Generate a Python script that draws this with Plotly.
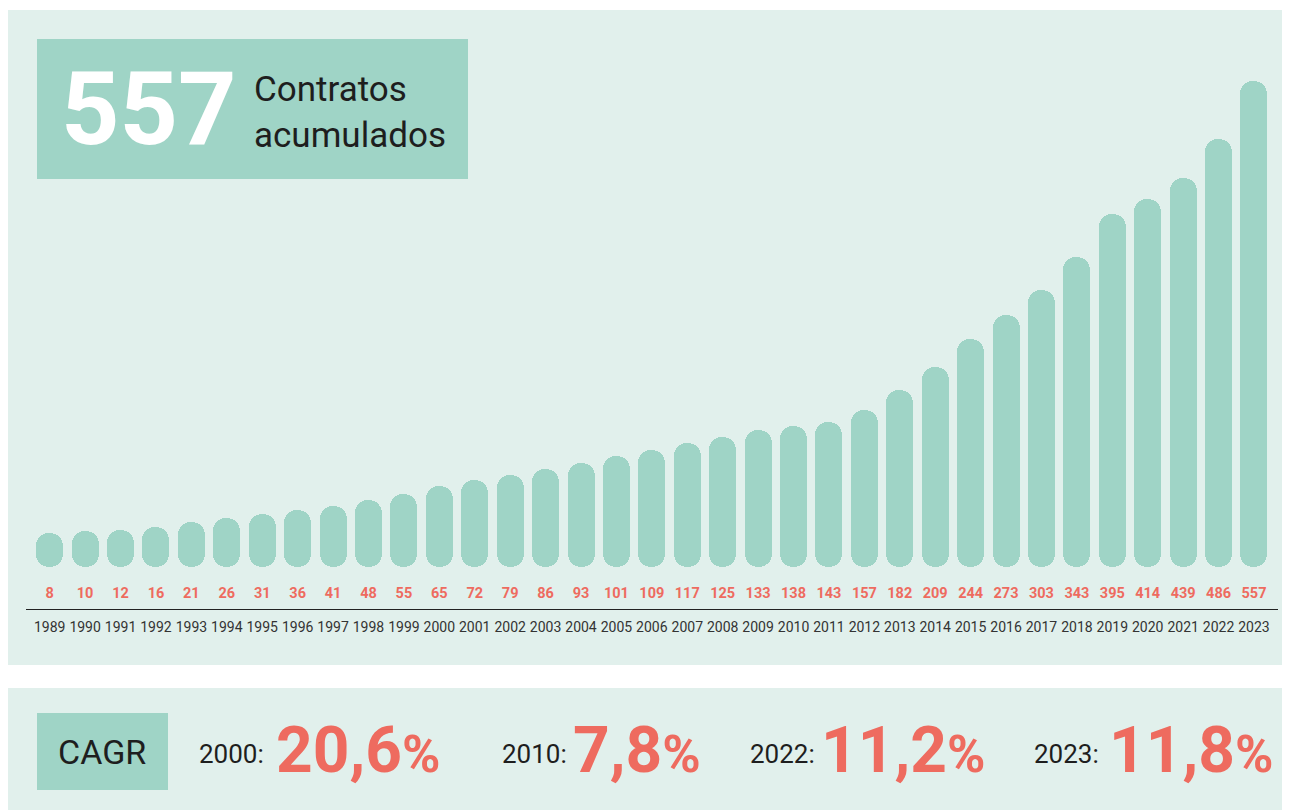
import plotly.graph_objects as go

years = [str(y) for y in range(1989, 2024)]
values = [8, 10, 12, 16, 21, 26, 31, 36, 41, 48, 55, 65, 72, 79, 86, 93, 101, 109,
          117, 125, 133, 138, 143, 157, 182, 209, 244, 273, 303, 343, 395, 414, 439, 486, 557]
total_label = "557"
title_label = "Contratos<br>acumulados"
cagr_years = ["2000:", "2010:", "2022:", "2023:"]
cagr_values = ["20,6", "7,8", "11,2", "11,8"]

# page is offset by the 8px body margin
OFF = 8
W, H = 1282, 802
BG = "#E1F0EC"
TEAL = "#9FD4C6"
CORAL = "#EE6B5F"
DARK = "#1E1E1E"
FONT = "Roboto, DejaVu Sans Condensed, sans-serif"

CAP = 16.4  # rounded cap size in value units
xs = list(range(len(years)))

fig = go.Figure()
# pill bars: rounded top
fig.add_trace(go.Bar(
    x=xs, y=[v + 2 * CAP for v in values], base=[-CAP] * len(values),
    width=0.762, marker=dict(color=TEAL, cornerradius="50%", line=dict(width=0)),
    hoverinfo="skip", showlegend=False))
# rounded bottom
fig.add_trace(go.Bar(
    x=xs, y=[-(v + 2 * CAP) for v in values], base=[v + CAP for v in values],
    width=0.762, marker=dict(color=TEAL, cornerradius="50%", line=dict(width=0)),
    hoverinfo="skip", showlegend=False))
# value labels
fig.add_trace(go.Scatter(
    x=xs, y=[-50] * len(values), mode="text", text=[str(v) for v in values],
    textfont=dict(family=FONT, size=14.5, color=CORAL, weight="bold"),
    hoverinfo="skip", showlegend=False, cliponaxis=False))


def px_x(p):
    return (p - OFF) / W


def px_y(p):
    return 1 - (p - OFF) / H


shapes = [
    dict(type="rect", xref="paper", yref="paper", x0=px_x(8), x1=px_x(1292),
         y0=px_y(665), y1=px_y(10), fillcolor=BG, line=dict(width=0), layer="below"),
    dict(type="rect", xref="paper", yref="paper", x0=px_x(8), x1=px_x(1292),
         y0=px_y(812), y1=px_y(688), fillcolor=BG, line=dict(width=0), layer="below"),
    dict(type="rect", xref="paper", yref="paper", x0=px_x(37), x1=px_x(468),
         y0=px_y(179), y1=px_y(39), fillcolor=TEAL, line=dict(width=0), layer="below"),
    dict(type="rect", xref="paper", yref="paper", x0=px_x(37), x1=px_x(168),
         y0=px_y(790), y1=px_y(713), fillcolor=TEAL, line=dict(width=0), layer="below"),
]

annotations = [
    dict(xref="paper", yref="paper", x=px_x(59), y=px_y(109), xanchor="left", yanchor="middle",
         text="<b>" + total_label + "</b>", showarrow=False,
         font=dict(family=FONT, size=102, color="white")),
    dict(xref="paper", yref="paper", x=px_x(252), y=px_y(112), xanchor="left", yanchor="middle",
         text=title_label, showarrow=False, align="left",
         font=dict(family=FONT, size=35, color=DARK)),
    dict(xref="paper", yref="paper", x=px_x(102), y=px_y(752), xanchor="center", yanchor="middle",
         text="CAGR", showarrow=False, font=dict(family=FONT, size=34, color=DARK)),
]

label_x = [197, 500, 748, 1032]
value_x = [274, 571, 819, 1107]
for lx, vx, yl, vl in zip(label_x, value_x, cagr_years, cagr_values):
    annotations.append(dict(xref="paper", yref="paper", x=px_x(lx), y=px_y(754),
                            xanchor="left", yanchor="middle", text=yl, showarrow=False,
                            font=dict(family=FONT, size=26, color=DARK)))
    annotations.append(dict(xref="paper", yref="paper", x=px_x(vx), y=px_y(750),
                            xanchor="left", yanchor="middle",
                            text="<b>" + vl + "<span style='font-size:52px'>%</span></b>",
                            showarrow=False, font=dict(family=FONT, size=64, color=CORAL)))

fig.update_layout(
    width=W, height=H, margin=dict(l=0, r=0, t=0, b=0),
    paper_bgcolor="white", plot_bgcolor="rgba(0,0,0,0)",
    barmode="overlay", bargap=0, shapes=shapes, annotations=annotations,
    xaxis=dict(domain=[px_x(26), px_x(1278)], range=[-0.669, 34.678],
               tickmode="array", tickvals=xs, ticktext=years, ticks="",
               ticklabelstandoff=5, tickangle=0,
               tickfont=dict(family=FONT, size=14, color="#333333"),
               showline=True, linecolor="#222222", linewidth=1, showgrid=False,
               zeroline=False, fixedrange=True),
    yaxis=dict(domain=[px_y(609), px_y(60)], range=[-67.7, 598.5], visible=False,
               showgrid=False, zeroline=False, fixedrange=True),
)

fig.write_html("out.html")
